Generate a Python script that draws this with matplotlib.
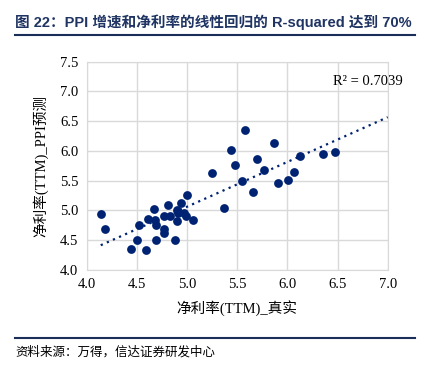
import numpy as np
import matplotlib.pyplot as plt
from matplotlib.lines import Line2D

# 数据
x_real = [4.14, 4.18, 4.44, 4.50, 4.52, 4.59, 4.61, 4.67, 4.68, 4.69, 4.69,
          4.77, 4.77, 4.77, 4.81, 4.83, 4.88, 4.90, 4.90, 4.91, 4.94, 4.97,
          4.99, 5.00, 5.06, 5.25, 5.37, 5.44, 5.48, 5.55, 5.58, 5.66, 5.70,
          5.77, 5.87, 5.91, 6.01, 6.07, 6.13, 6.36, 6.47]
y_pred = [4.94, 4.69, 4.36, 4.50, 4.76, 4.33, 4.86, 5.03, 4.84, 4.75, 4.50,
          4.91, 4.69, 4.63, 5.10, 4.91, 4.50, 5.01, 4.82, 4.96, 5.13, 4.96,
          4.90, 5.26, 4.84, 5.63, 5.04, 6.02, 5.77, 5.50, 6.35, 5.31, 5.87,
          5.68, 6.14, 5.47, 5.52, 5.65, 5.92, 5.95, 5.98]
r2_text = "R² = 0.7039"

xticks = [4.0, 4.5, 5.0, 5.5, 6.0, 6.5, 7.0]
yticks = [4.0, 4.5, 5.0, 5.5, 6.0, 6.5, 7.0, 7.5]

navy = "#002272"
title_color = "#1F3463"
serif = ["Liberation Serif", "Noto Sans CJK SC"]

W, H = 423, 369
fig = plt.figure(figsize=(W / 100, H / 100), dpi=100)

# 标题
fig.text(15 / W, 1 - 22 / H, "图 22：PPI 增速和净利率的线性回归的 R-squared 达到 70%",
         fontsize=10.5, fontweight="bold", color=title_color,
         family=["Liberation Sans", "Noto Sans CJK SC"], va="center", ha="left")
fig.add_artist(Line2D([15 / W, 415 / W], [1 - 35 / H, 1 - 35 / H],
                      color="#1A2E5A", lw=1.5))

ax = fig.add_axes([86.7 / W, 1 - 270 / H, 301 / W, 208.3 / H])

ax.scatter(x_real, y_pred, s=40, color=navy, zorder=3, linewidths=0)

# 线性趋势线
k, b = np.polyfit(x_real, y_pred, 1)
xs = np.array([min(x_real), 7.0])
ax.plot(xs, k * xs + b, linestyle=(0, (1, 2)), color=navy, lw=1.6, zorder=2)

ax.set_xlim(4.0, 7.0)
ax.set_ylim(4.0, 7.5)
ax.set_xticks(xticks)
ax.set_yticks(yticks)
ax.set_xticklabels([f"{v:.1f}" for v in xticks], family=serif, fontsize=10.5)
ax.set_yticklabels([f"{v:.1f}" for v in yticks], family=serif, fontsize=10.5)
ax.tick_params(length=0, pad=6)
ax.grid(True, color="#D9D9D9", lw=1)
ax.set_axisbelow(True)
for s in ax.spines.values():
    s.set_color("#D9D9D9")

ax.set_xlabel("净利率(TTM)_真实", family=serif, fontsize=10.5, labelpad=6)
ax.set_ylabel("净利率(TTM)_PPI预测", family=serif, fontsize=10.5, labelpad=8)

ax.text(1.05, 0.905, r2_text, transform=ax.transAxes, ha="right", va="center",
        family=serif, fontsize=10.5)

# 底部
fig.add_artist(Line2D([15 / W, 415 / W], [1 - 338 / H, 1 - 338 / H],
                      color="#1A2E5A", lw=1.5))
fig.text(15 / W, 1 - 352 / H, "资料来源：万得，信达证券研发中心", fontsize=9,
         family=["Noto Sans CJK SC"], style="italic", va="center", ha="left")

fig.savefig("out.png", dpi=100)
